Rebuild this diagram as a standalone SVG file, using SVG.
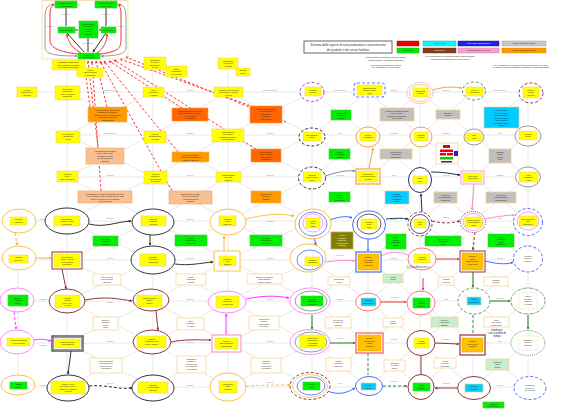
<svg xmlns="http://www.w3.org/2000/svg" width="575" height="417" viewBox="0 0 575 417">
<defs>
<style>
.t{font-family:"Liberation Sans",Arial,sans-serif;font-size:2.1px;fill:#222;text-anchor:middle}
.tw{font-family:"Liberation Sans",Arial,sans-serif;font-size:2.1px;fill:#fff;text-anchor:middle}
.lb{font-family:"Liberation Sans",Arial,sans-serif;font-size:1.9px;fill:#8a8a8a;text-anchor:middle}
.tt{font-family:"Liberation Sans",Arial,sans-serif;font-size:3px;fill:#333;text-anchor:middle}
.y{fill:#ffff00;stroke:#f3d36b;stroke-width:.6}
.g{fill:#00ee00;stroke:#3ccf3c;stroke-width:.6}
.o{fill:#ff9900;stroke:#f7b55a;stroke-width:.6}
.do{fill:#ff6600;stroke:#ff9a3c;stroke-width:.6}
.pe{fill:#fac08f;stroke:#f4a460;stroke-width:.6}
.wb{fill:#fff;stroke:#fbd69a;stroke-width:.8}
.gr{fill:#c0c0c0;stroke:#efcf8e;stroke-width:.8}
.cy{fill:#00ccff;stroke:#e8d08a;stroke-width:.6}
.gd{fill:#ffc000;stroke:#e6a400;stroke-width:.5}
.lg{fill:#c6efce;stroke:#f3d08a;stroke-width:.7}
.ol{fill:#7f7f00;stroke:#c8a850;stroke-width:.8}
.e{fill:#fff;stroke-width:1}
.en{fill:none;stroke-width:.8}
.k{stroke:#333}
.or{stroke:#f9c04e}
.pk{stroke:#ff88ff}
.br{stroke:#8b3a3a}
.bl{stroke:#4a6cf7}
.nv{stroke:#22305a}
.rd{stroke:#f77}
.gn{stroke:#5a9a6a}
.gy{stroke:#999}
.pu{stroke:#9b4fb0}
.dsh{stroke-dasharray:3 2}
.dot{stroke-dasharray:1 1}
.grid{fill:none;stroke:#c6c6c6;stroke-width:.4}
.c{fill:none;stroke-width:1}
.rdl{fill:none;stroke:#f33;stroke-width:1;stroke-dasharray:2.5 2}
</style>
<marker id="ak" viewBox="0 0 6 6" refX="5" refY="3" markerWidth="3" markerHeight="3" orient="auto"><path d="M0 0L6 3L0 6z" fill="#333"/></marker>
<marker id="abr" viewBox="0 0 6 6" refX="5" refY="3" markerWidth="3" markerHeight="3" orient="auto"><path d="M0 0L6 3L0 6z" fill="#8b3a3a"/></marker>
<marker id="aor" viewBox="0 0 6 6" refX="5" refY="3" markerWidth="3" markerHeight="3" orient="auto"><path d="M0 0L6 3L0 6z" fill="#f5a623"/></marker>
<marker id="amg" viewBox="0 0 6 6" refX="5" refY="3" markerWidth="3" markerHeight="3" orient="auto"><path d="M0 0L6 3L0 6z" fill="#f3f"/></marker>
<marker id="apk" viewBox="0 0 6 6" refX="5" refY="3" markerWidth="3" markerHeight="3" orient="auto"><path d="M0 0L6 3L0 6z" fill="#f8c"/></marker>
<marker id="abl" viewBox="0 0 6 6" refX="5" refY="3" markerWidth="3" markerHeight="3" orient="auto"><path d="M0 0L6 3L0 6z" fill="#4a6cf7"/></marker>
<marker id="anv" viewBox="0 0 6 6" refX="5" refY="3" markerWidth="3" markerHeight="3" orient="auto"><path d="M0 0L6 3L0 6z" fill="#22305a"/></marker>
<marker id="ard" viewBox="0 0 6 6" refX="5" refY="3" markerWidth="3" markerHeight="3" orient="auto"><path d="M0 0L6 3L0 6z" fill="#e33"/></marker>
<marker id="agn" viewBox="0 0 6 6" refX="5" refY="3" markerWidth="3" markerHeight="3" orient="auto"><path d="M0 0L6 3L0 6z" fill="#2a7a2a"/></marker>
<marker id="agy" viewBox="0 0 6 6" refX="5" refY="3" markerWidth="3" markerHeight="3" orient="auto"><path d="M0 0L6 3L0 6z" fill="#888"/></marker>
</defs>
<rect width="575" height="417" fill="#fff"/>

<g id="connectors">
<path class="grid" d="M18 221H528M18 260H528M18 301H528M18 343H528M18 387H528M27 92H528M67 135H528M67 177H528M67 70V387M153 70V387M228 69V387M312 92V387M368 92V387M420 92V387M473 92V387M528 92V387M18 221V387"/>
<path class="grid" d="M67 92L153 135L67 177L153 221L67 260L153 301L67 343L153 387M153 92L67 135L153 177L67 221L153 260L67 301L153 343L67 387M153 92L228 135L153 177L228 221L153 260L228 301L153 343L228 387M228 92L153 135L228 177L153 221L228 260L153 301L228 343L153 387M228 92L312 135L228 177L312 221L228 260L312 301L228 343L312 387M312 92L228 135L312 177L228 221L312 260L228 301L312 343L228 387M312 92L368 135L312 177L368 221L312 260L368 301L312 343L368 387M368 92L312 135L368 177L312 221L368 260L312 301L368 343L312 387M368 92L420 135L368 177L420 221L368 260L420 301L368 343L420 387M420 92L368 135L420 177L368 221L420 260L368 301L420 343L368 387M420 92L473 135L420 177L473 221L420 260L473 301L420 343L473 387M473 92L420 135L473 177L420 221L473 260L420 301L473 343L420 387M473 92L528 135L473 177L528 221L473 260L528 301L473 343L528 387M528 92L473 135L528 177L473 221L528 260L473 301L528 343L473 387"/>
<g>
<text class="lb" x="110" y="91.4">scambio servizi</text><text class="lb" x="190" y="91.4">fornitura</text><text class="lb" x="270" y="91.4">acquisto prodotti</text><text class="lb" x="340" y="91.4">autoconsumo</text><text class="lb" x="394" y="91.4">scambio</text><text class="lb" x="446" y="91.4">fornitura</text><text class="lb" x="500" y="91.4">manutenzione</text>
<text class="lb" x="110" y="134.4">autoproduzione</text><text class="lb" x="190" y="134.4">scambio</text><text class="lb" x="270" y="134.4">fornitura</text><text class="lb" x="340" y="134.4">riuso</text><text class="lb" x="394" y="134.4">consumo</text><text class="lb" x="446" y="134.4">scambio</text><text class="lb" x="500" y="134.4">riuso</text>
<text class="lb" x="110" y="176.4">scambio</text><text class="lb" x="190" y="176.4">servizio</text><text class="lb" x="270" y="176.4">consumo</text><text class="lb" x="340" y="176.4">fornitura</text><text class="lb" x="394" y="176.4">riuso</text><text class="lb" x="446" y="176.4">servizio</text><text class="lb" x="500" y="176.4">scambio</text>
<text class="lb" x="43" y="220.4">fornitura</text><text class="lb" x="110" y="219.4">scambio</text><text class="lb" x="190" y="220.4">consumo</text><text class="lb" x="270" y="222.4">fornitura</text><text class="lb" x="394" y="220.4">servizio</text><text class="lb" x="446" y="218.4">scambio</text><text class="lb" x="500" y="219.4">riuso</text>
<text class="lb" x="43" y="259.4">acquisto</text><text class="lb" x="110" y="259.4">servizio</text><text class="lb" x="190" y="259.4">consumo</text><text class="lb" x="270" y="259.4">scambio</text><text class="lb" x="340" y="256.4">fornitura</text><text class="lb" x="394" y="259.4">scambio</text><text class="lb" x="500" y="259.4">servizio</text>
<text class="lb" x="43" y="300.4">consumo</text><text class="lb" x="110" y="303.4">scambio</text><text class="lb" x="190" y="300.4">fornitura</text><text class="lb" x="270" y="300.4">servizio</text><text class="lb" x="340" y="300.4">scambio</text><text class="lb" x="394" y="298.4">consumo</text><text class="lb" x="446" y="300.4">riuso</text><text class="lb" x="500" y="299.4">fornitura</text>
<text class="lb" x="43" y="346.4">scambio</text><text class="lb" x="110" y="342.4">consumo</text><text class="lb" x="190" y="343.4">servizio</text><text class="lb" x="270" y="342.4">fornitura</text><text class="lb" x="340" y="339.4">servizio</text><text class="lb" x="394" y="340.4">scambio</text><text class="lb" x="446" y="340.4">consumo</text><text class="lb" x="500" y="342.4">riuso</text>
<text class="lb" x="43" y="386.4">fornitura</text><text class="lb" x="110" y="384.4">servizio</text><text class="lb" x="190" y="386.4">scambio</text><text class="lb" x="270" y="383.4">consumo</text><text class="lb" x="340" y="384.4">riuso</text><text class="lb" x="394" y="382.4">fornitura</text><text class="lb" x="446" y="384.4">scambio</text><text class="lb" x="500" y="386.4">servizio</text>
</g>
<path class="rdl" d="M98 148L88 61" marker-end="url(#ard)"/>
<path class="rdl" d="M101 191L92 61" marker-end="url(#ard)"/>
<path class="rdl" d="M107 107L96 61" marker-end="url(#ard)"/>
<path class="rdl" d="M172 191L100 61" marker-end="url(#ard)"/>
<path class="rdl" d="M178 152L104 61" marker-end="url(#ard)"/>
<path class="rdl" d="M182 108L109 61" marker-end="url(#ard)"/>
<path class="rdl" d="M256 149L114 60" marker-end="url(#ard)"/>
<path class="rdl" d="M254 107L120 59" marker-end="url(#ard)"/>
<path class="rdl" d="M286 122L126 57" marker-end="url(#ard)"/>
<path class="rdl" d="M90 107L84 61" marker-end="url(#ard)"/>
<path class="c k" d="M89 224C105 228 115 222 131 221" marker-end="url(#ak)"/>
<path class="c k" d="M150 235V245" marker-end="url(#ak)"/>
<path class="c k" d="M175 264C190 266 200 263 213 262" marker-end="url(#ak)"/>
<path class="c k" stroke-width="1.3" d="M71 351L68 374" marker-end="url(#ak)"/>
<path class="c k dsh" d="M89 386C105 384 118 390 132 388" marker-end="url(#ak)"/>
<path class="c or" d="M246 219C260 216 275 212 294 216" marker-end="url(#aor)"/>
<path class="c or" d="M224 251L224 236" marker-end="url(#aor)"/>
<path class="c or dsh" d="M15 233L17 245" marker-end="url(#aor)"/>
<path class="c or" d="M36 258L51 258" marker-end="url(#aor)"/>
<path class="c or dsh" d="M246 386C262 385 278 385 290 385" marker-end="url(#aor)"/>
<path class="c" stroke="#f5a040" d="M433 90C445 86 455 87 462 88" marker-end="url(#aor)"/>
<path class="c" stroke="#f5a040" d="M369 168L373 148" marker-end="url(#aor)"/>
<path class="c br" d="M62 269L66 289" marker-end="url(#abr)"/>
<path class="c br" d="M85 300C105 296 120 299 132 301" marker-end="url(#abr)"/>
<path class="c br" d="M156 311L158 330" marker-end="url(#abr)"/>
<path class="c br" d="M171 342C185 339 200 340 211 340" marker-end="url(#abr)"/>
<path class="c br dsh" d="M432 221C445 224 452 223 460 221" marker-end="url(#abr)"/>
<path class="c br dsh" d="M475 232L473 250" marker-end="url(#abr)"/>
<path class="c br" d="M421 356V375"/>
<path class="c br" d="M435 343L459 344" marker-end="url(#abr)"/>
<path class="c br" d="M457 388L435 388" marker-end="url(#abr)"/>
<path class="c dsh" stroke="#f3f" d="M14 312L16 329" marker-end="url(#amg)"/>
<path class="c" stroke="#f3f" d="M34 340C42 338 46 340 51 341" marker-end="url(#amg)"/>
<path class="c" stroke="#f3f" d="M226 335L226 314" marker-end="url(#amg)"/>
<path class="c" stroke="#f3f" d="M246 299C260 296 275 295 289 298" marker-end="url(#amg)"/>
<path class="c" stroke="#f8c" d="M474 184L472 210" marker-end="url(#apk)"/>
<path class="c" stroke="#f8c" d="M485 219C500 216 510 215 514 215" marker-end="url(#apk)"/>
<path class="c" stroke="#f8c" d="M326 262C340 260 348 260 355 261" marker-end="url(#apk)"/>
<path class="c" stroke="#f8c" d="M381 256C392 250 402 252 410 256"/>
<path class="c bl" d="M330 220C340 216 348 216 352 218" marker-end="url(#abl)"/>
<path class="c bl" d="M368 238L368 251" marker-end="url(#abl)"/>
<path class="c bl" d="M314 238L316 245" marker-end="url(#abl)"/>
<path class="c bl" d="M485 261C500 265 510 264 513 262" marker-end="url(#abl)"/>
<path class="c bl" d="M327 391C340 396 348 392 355 388" marker-end="url(#abl)"/>
<path class="c nv" d="M386 219C396 218 402 218 408 219" marker-end="url(#anv)"/>
<path class="c nv" d="M422 212L421 194" marker-end="url(#anv)"/>
<path class="c nv" d="M431 172C445 172 452 174 460 175" marker-end="url(#anv)"/>
<path class="c" stroke="#888" d="M325 176C338 172 346 170 355 171" marker-end="url(#agy)"/>
<path class="c" stroke="#e33" d="M431 259L459 259" marker-end="url(#ard)"/>
<path class="c" stroke="#e33" d="M381 302L406 302" marker-end="url(#ard)"/>
<path class="c" stroke="#e33" d="M423 278L423 290" marker-end="url(#ard)"/>
<path class="c" stroke="#2a7a2a" d="M330 343L355 343" marker-end="url(#agn)"/>
<path class="c" stroke="#2a7a2a" d="M312 315V329" marker-end="url(#agn)"/>
<path class="c dsh" stroke="#3a9a3a" d="M368 353V375"/>
<path class="c dsh" stroke="#2a7a2a" d="M383 386L407 386" marker-end="url(#agn)"/>
<path class="c" stroke="#2a7a2a" d="M490 301L510 301" marker-end="url(#agn)"/>
<path class="c" stroke="#2a7a2a" d="M473 272V287" marker-end="url(#agn)"/>
<path class="c" stroke="#2a7a2a" d="M528 315V329" marker-end="url(#agn)"/>
<path class="c dsh" stroke="#3a9a3a" d="M473 315V334"/>
</g>

<g id="cluster">
<rect x="42" y="0.5" width="86" height="58.5" fill="none" stroke="#f8d8a8" stroke-width=".8"/>
<path class="c gy" d="M55 4C46 4 45 10 45 20V48C45 55 60 56 77 56" marker-end="url(#agy)"/>
<path class="c gy" d="M117 4C125 4 126 10 126 20V48C126 55 112 56 101 56" marker-end="url(#agy)"/>
<path class="c" stroke="#e33" d="M78 54C60 52 50 48 50 40V14C50 8 52 5 54 5" marker-end="url(#ard)"/>
<path class="c" stroke="#e33" d="M100 54C118 52 121 48 121 40V14C121 8 119 5 118 5" marker-end="url(#ard)"/>
<path class="c" stroke="#e33" d="M81 53C72 48 68 42 67 34" marker-end="url(#ard)"/>
<path class="c" stroke="#e33" d="M97 53C104 48 107 42 107 34" marker-end="url(#ard)"/>
<path class="c k" stroke-width=".7" d="M66 8V26M106 8V26M75 30H78M101 30H99M88 38V52M67 33L84 52M106 33L93 52" marker-end="url(#ak)"/>
<text class="lb" x="66" y="15">produzione</text><text class="lb" x="106" y="15">produzione</text>
<text class="lb" x="88" y="44">autoconsumo</text><text class="lb" x="50" y="27">scambio</text><text class="lb" x="121" y="27">scambio</text>
<rect class="g" x="55" y="1" width="22" height="7"/><text class="t" x="66" y="4">autoproduzione</text><text class="t" x="66" y="6.5">prodotti (PB)</text>
<rect class="g" x="95" y="1" width="22" height="7"/><text class="t" x="106" y="4">autoproduzione</text><text class="t" x="106" y="6.5">servizi (PB)</text>
<rect class="g" x="79" y="21" width="19" height="17"/><text class="t" x="88.5" y="24.5">autoconsumo</text><text class="t" x="88.5" y="27">di prodotti</text><text class="t" x="88.5" y="29.5">e servizi</text><text class="t" x="88.5" y="32">della</text><text class="t" x="88.5" y="34.5">famiglia</text>
<rect class="g" x="58" y="27" width="17" height="6"/><text class="t" x="66.5" y="30.7">beni prodotti</text>
<rect class="g" x="101" y="27" width="15" height="6"/><text class="t" x="108.5" y="30.7">servizi resi</text>
<rect class="g" x="78" y="53" width="22" height="6"/><text class="t" x="89" y="55.6">bilancio di</text><text class="t" x="89" y="58">autoconsumo</text>
</g>

<g id="inputs">
<g id="nA1"><rect class="y" x="52" y="60" width="33" height="10"/><text class="t" x="68.5" y="63">fabbisogno alimentare</text><text class="t" x="68.5" y="65.5">della famiglia e prodotti</text><text class="t" x="68.5" y="68">di consumo quotidiano</text></g>
<g id="nA2"><rect class="y" x="77" y="68" width="26" height="9"/><text class="t" x="90" y="71">risorse</text><text class="t" x="90" y="73.3">materie prime</text><text class="t" x="90" y="75.6">e strumenti</text></g>
<g id="nC0a"><rect class="y" x="144" y="57" width="22" height="13"/><text class="t" x="155" y="60.5">fabbisogno</text><text class="t" x="155" y="63">di servizi</text><text class="t" x="155" y="65.5">domestici e</text><text class="t" x="155" y="68">di cura</text></g>
<g id="nC0b"><rect class="y" x="166" y="66" width="21" height="11"/><text class="t" x="176.5" y="69.5">tempo</text><text class="t" x="176.5" y="72">disponibile</text><text class="t" x="176.5" y="74.5">dei membri</text></g>
<g id="nD0a"><rect class="y" x="218" y="58" width="20" height="11"/><text class="t" x="228" y="61.5">fabbisogno</text><text class="t" x="228" y="64">di energia</text><text class="t" x="228" y="66.5">e acqua</text></g>
<g id="nD0b"><rect class="y" x="236" y="68" width="14" height="8"/><text class="t" x="243" y="71.3">impianti</text><text class="t" x="243" y="73.8">propri</text></g>
</g>

<g id="row1">
<g id="r1A"><rect class="y" x="17" y="87" width="20" height="10"/><text class="t" x="27" y="90.5">prodotti</text><text class="t" x="27" y="93">acquistati sul</text><text class="t" x="27" y="95.5">mercato</text></g>
<g id="r1B"><rect class="y" x="55" y="86" width="25" height="14"/><text class="t" x="67.5" y="89.5">produzione</text><text class="t" x="67.5" y="92">alimentare</text><text class="t" x="67.5" y="94.5">orto e giardino</text><text class="t" x="67.5" y="97">domestico</text></g>
<g id="r1C"><rect class="y" x="143" y="87" width="21" height="10"/><text class="t" x="153.5" y="90.5">lavori</text><text class="t" x="153.5" y="93">domestici</text><text class="t" x="153.5" y="95.5">e pulizie</text></g>
<g id="r1D"><rect class="y" x="214" y="87" width="29" height="10"/><text class="t" x="228.5" y="90.5">produzione di energia</text><text class="t" x="228.5" y="93">fotovoltaico e solare</text><text class="t" x="228.5" y="95.5">termico</text></g>
<g id="r1E"><ellipse class="e pu dsh" cx="312" cy="92" rx="12" ry="9.5"/><rect class="y" x="305" y="87" width="16" height="9"/><text class="t" x="313" y="90.5">raccolta</text><text class="t" x="313" y="93">acqua</text></g>
<g id="r1F"><rect x="354" y="83" width="31" height="14" rx="3" fill="#fff" stroke="#5b8def" stroke-width="1.2" stroke-dasharray="3 2"/><rect class="y" x="357" y="85" width="25" height="10"/><text class="t" x="369.5" y="88.5">manutenzione</text><text class="t" x="369.5" y="91">ordinaria della</text><text class="t" x="369.5" y="93.5">casa</text></g>
<g id="r1G"><ellipse class="e rd dot" cx="420" cy="93" rx="13" ry="10.5"/><ellipse class="en or" cx="420" cy="93" rx="10.5" ry="8.5"/><rect class="y" x="413" y="88" width="15" height="9"/><text class="t" x="420.5" y="91.5">riparazioni</text><text class="t" x="420.5" y="94">utensili</text></g>
<g id="r1H"><ellipse class="e gn dsh" cx="474" cy="91" rx="11.5" ry="9"/><rect class="y" x="466" y="87" width="17" height="9"/><text class="t" x="474.5" y="90.5">cucito e</text><text class="t" x="474.5" y="93">riparazioni</text></g>
<g id="r1I"><ellipse class="e br dsh" stroke-width="1.2" cx="531" cy="93" rx="12" ry="10"/><rect class="y" x="523" y="87" width="16" height="11"/><text class="t" x="531" y="90.5">mobili e</text><text class="t" x="531" y="93">arredi</text><text class="t" x="531" y="95.5">fai da te</text></g>
</g>

<g id="between1">
<g id="b1B"><rect class="o" x="88" y="107" width="39" height="15"/><text class="t" x="107.5" y="110.5">conservazione alimentare</text><text class="t" x="107.5" y="113">marmellate, conserve</text><text class="t" x="107.5" y="115.5">essiccazione e congelamento</text><text class="t" x="107.5" y="118">dei prodotti dell'orto</text><text class="t" x="107.5" y="120.5">e del giardino</text></g>
<g id="b1C"><rect class="do" x="172" y="108" width="36" height="13"/><text class="t" x="190" y="111.5">organizzazione del tempo</text><text class="t" x="190" y="114">delle attivita domestiche</text><text class="t" x="190" y="116.5">e della cura</text><text class="t" x="190" y="119">dei familiari</text></g>
<g id="b1D"><rect class="do" x="250" y="106" width="32" height="17"/><text class="t" x="266" y="109.5">gestione dei consumi</text><text class="t" x="266" y="112">energetici della</text><text class="t" x="266" y="114.5">abitazione e</text><text class="t" x="266" y="117">accumulo</text><text class="t" x="266" y="119.5">dell'energia</text></g>
<g id="b1E"><rect class="g" x="331" y="110" width="20" height="10"/><text class="t" x="341" y="113.5">acqua per</text><text class="t" x="341" y="116">irrigazione</text><text class="t" x="341" y="118.5">dell'orto</text></g>
<g id="b1F"><rect class="gr" x="380" y="108" width="34" height="13"/><text class="t" x="397" y="111.5">prodotti di manutenzione</text><text class="t" x="397" y="114">vernici, colle e</text><text class="t" x="397" y="116.5">materiali di consumo</text><text class="t" x="397" y="119">per la casa</text></g>
<g id="b1G"><rect class="gr" x="436" y="110" width="24" height="9"/><text class="t" x="448" y="113.5">attrezzi e</text><text class="t" x="448" y="116">ricambi</text></g>
<g id="b1H"><rect class="cy" x="484" y="107" width="35" height="21"/><text class="t" x="501.5" y="111">bilancio lordo</text><text class="t" x="501.5" y="113.5">delle attivita di</text><text class="t" x="501.5" y="116">manutenzione e</text><text class="t" x="501.5" y="118.5">autoproduzione</text><text class="t" x="501.5" y="121">della famiglia</text><text class="t" x="501.5" y="123.5">risparmio annuo</text><text class="t" x="501.5" y="126">stimato</text></g>
</g>

<g id="row2">
<g id="r2B"><rect class="y" x="56" y="131" width="24" height="12"/><text class="t" x="68" y="134.5">allevamento</text><text class="t" x="68" y="137">animali da</text><text class="t" x="68" y="139.5">cortile</text></g>
<g id="r2C"><rect class="y" x="144" y="131" width="22" height="12"/><text class="t" x="155" y="134.5">cucina e</text><text class="t" x="155" y="137">preparazione</text><text class="t" x="155" y="139.5">dei pasti</text></g>
<g id="r2D"><rect class="y" x="212" y="129" width="32" height="13"/><text class="t" x="228" y="132.5">riscaldamento</text><text class="t" x="228" y="135">con legna e</text><text class="t" x="228" y="137.5">biomasse proprie</text><text class="t" x="228" y="140">della famiglia</text></g>
<g id="r2E"><ellipse class="e k dsh" cx="312" cy="137" rx="13" ry="9"/><rect class="y" x="303" y="132" width="18" height="9"/><text class="t" x="312" y="135.5">depurazione</text><text class="t" x="312" y="138">acque</text></g>
<g id="r2F"><ellipse class="e" stroke="#f8a040" stroke-width="1.2" cx="368" cy="137" rx="12" ry="10"/><rect class="y" x="360" y="132" width="16" height="9"/><text class="t" x="368" y="135.5">piccole</text><text class="t" x="368" y="138">riparazioni</text></g>
<g id="r2G"><ellipse class="e" stroke="#f8a040" stroke-width="1.2" cx="421" cy="137" rx="11" ry="10"/><rect class="y" x="414" y="132" width="14" height="9"/><text class="t" x="421" y="135.5">impianti</text><text class="t" x="421" y="138">elettrici</text></g>
<g id="r2H"><ellipse class="e gy" cx="474" cy="137" rx="10" ry="8"/><rect class="y" x="466" y="133" width="16" height="8"/><text class="t" x="474" y="136.3">abiti</text><text class="t" x="474" y="138.8">usati</text></g>
<g id="r2I"><ellipse class="e gy" cx="528" cy="136" rx="13" ry="10"/><rect class="y" x="519" y="131" width="18" height="9"/><text class="t" x="528" y="134.5">restauro</text><text class="t" x="528" y="137">mobili</text></g>
</g>

<g id="between2">
<g id="b2B"><rect class="pe" x="86" y="148" width="38" height="16"/><text class="t" x="105" y="151.5">trasformazione prodotti</text><text class="t" x="105" y="154">uova, carne, latte</text><text class="t" x="105" y="156.5">formaggi e salumi</text><text class="t" x="105" y="159">per autoconsumo</text><text class="t" x="105" y="161.5">familiare</text></g>
<g id="b2C"><rect class="o" x="172" y="152" width="37" height="10"/><text class="t" x="190.5" y="155.5">menu settimanale</text><text class="t" x="190.5" y="158">e spesa programmata</text><text class="t" x="190.5" y="160.5">riduzione sprechi</text></g>
<g id="b2D"><rect class="do" x="251" y="149" width="30" height="13"/><text class="t" x="266" y="152.5">manutenzione</text><text class="t" x="266" y="155">stufe e camini</text><text class="t" x="266" y="157.5">taglio legna</text><text class="t" x="266" y="160">stagionale</text></g>
<g id="b2E"><rect class="g" x="329" y="149" width="21" height="10"/><text class="t" x="339.5" y="152.5">acqua</text><text class="t" x="339.5" y="155">riutilizzata</text><text class="t" x="339.5" y="157.5">in casa</text></g>
<g id="b2F"><rect class="gr" x="380" y="149" width="32" height="10"/><text class="t" x="396" y="152.5">materiali per</text><text class="t" x="396" y="155">riparazioni</text><text class="t" x="396" y="157.5">domestiche</text></g>
<g id="b2G"><rect class="wb" x="436" y="143" width="22" height="21"/><rect x="443" y="145" width="7" height="3" fill="#e00"/><rect x="440" y="149.5" width="13" height="2.5" fill="#e00"/><rect x="440" y="153" width="6" height="2.5" fill="#e00"/><rect x="447" y="153" width="6" height="2.5" fill="#e00"/><rect x="440" y="157" width="13" height="2.5" fill="#0c0"/><rect x="441" y="161" width="11" height="1.5" fill="#333"/><rect x="454" y="151" width="4" height="5" fill="#22c"/></g>
<g id="b2H"><rect class="gr" x="489" y="149" width="22" height="14"/><text class="t" x="500" y="152.5">scambio</text><text class="t" x="500" y="155">abiti e</text><text class="t" x="500" y="157.5">oggetti</text><text class="t" x="500" y="160">usati</text></g>
</g>

<g id="row3">
<g id="r3B"><rect class="y" x="57" y="171" width="21" height="11"/><text class="t" x="67.5" y="174.5">raccolta</text><text class="t" x="67.5" y="177">frutti e</text><text class="t" x="67.5" y="179.5">erbe spontanee</text></g>
<g id="r3C"><rect class="y" x="144" y="171" width="23" height="13"/><text class="t" x="155.5" y="174.5">cura dei</text><text class="t" x="155.5" y="177">bambini e</text><text class="t" x="155.5" y="179.5">degli anziani</text><text class="t" x="155.5" y="182">in famiglia</text></g>
<g id="r3D"><rect class="y" x="216" y="172" width="25" height="10"/><text class="t" x="228.5" y="175.5">compostaggio</text><text class="t" x="228.5" y="178">dei rifiuti</text><text class="t" x="228.5" y="180.5">organici</text></g>
<g id="r3E"><ellipse class="e k dsh" cx="312" cy="178" rx="13.5" ry="11"/><rect class="y" x="303" y="172" width="18" height="10"/><text class="t" x="312" y="175.5">raccolta</text><text class="t" x="312" y="178">differenziata</text><text class="t" x="312" y="180.5">rifiuti</text></g>
<g id="r3F"><rect x="356" y="169" width="24" height="15" fill="#fff" stroke="#f8a040" stroke-width="1.2"/><rect class="y" x="358" y="171" width="20" height="11"/><text class="t" x="368" y="174.5">riparazione</text><text class="t" x="368" y="177">elettrodomestici</text><text class="t" x="368" y="179.5">in casa</text></g>
<g id="r3G"><ellipse class="e nv" stroke-width="1.2" cx="420" cy="180" rx="11.5" ry="12.5"/><rect class="y" x="413" y="176" width="14" height="8"/><text class="t" x="420" y="179.3">lavori</text><text class="t" x="420" y="181.8">edili</text></g>
<g id="r3H"><rect x="461" y="171" width="23" height="13" fill="#fff" stroke="#f9c" stroke-width="1"/><rect class="y" x="463" y="173" width="19" height="9"/><text class="t" x="472.5" y="176.5">ciclo vitale</text><text class="t" x="472.5" y="179">della casa</text></g>
<g id="r3I"><ellipse class="e gy" cx="528" cy="177" rx="12.5" ry="10"/><rect class="y" x="519" y="172" width="19" height="10"/><text class="t" x="528.5" y="175.5">riuso</text><text class="t" x="528.5" y="178">materiali</text><text class="t" x="528.5" y="180.5">edili</text></g>
</g>

<g id="between3">
<g id="b3B"><rect class="pe" x="78" y="191" width="54" height="12"/><text class="t" x="105" y="194.5">preparazione di pasti con prodotti dell'orto</text><text class="t" x="105" y="197">e del giardino, pane e pasta fatti in casa</text><text class="t" x="105" y="199.5">dolci e conserve per la famiglia</text><text class="t" x="105" y="202">e per gli ospiti</text></g>
<g id="b3C"><rect class="pe" x="169" y="191" width="43" height="13"/><text class="t" x="190.5" y="194.5">assistenza ai familiari</text><text class="t" x="190.5" y="197">non autosufficienti</text><text class="t" x="190.5" y="199.5">e doposcuola dei</text><text class="t" x="190.5" y="202">bambini</text></g>
<g id="b3D"><rect class="o" x="251" y="191" width="30" height="12"/><text class="t" x="266" y="194.5">concime per</text><text class="t" x="266" y="197">l'orto e il</text><text class="t" x="266" y="199.5">giardino</text></g>
<g id="b3E"><rect class="g" x="329" y="192" width="21" height="10"/><text class="t" x="339.5" y="195.5">materiali</text><text class="t" x="339.5" y="198">riciclati</text><text class="t" x="339.5" y="200.5">recuperati</text></g>
<g id="b3F"><rect class="cy" x="385" y="191" width="24" height="13"/><text class="t" x="397" y="194.5">bilancio</text><text class="t" x="397" y="197">lordo delle</text><text class="t" x="397" y="199.5">riparazioni</text><text class="t" x="397" y="202">annue</text></g>
<g id="b3G"><rect class="gr" x="434" y="192" width="23" height="11"/><text class="t" x="445.5" y="195.5">materiali</text><text class="t" x="445.5" y="198">da costruzione</text><text class="t" x="445.5" y="200.5">acquistati</text></g>
<g id="b3H"><rect class="gr" x="486" y="192" width="30" height="11"/><text class="t" x="501" y="195.5">prodotti di</text><text class="t" x="501" y="198">manutenzione</text><text class="t" x="501" y="200.5">straordinaria</text></g>
</g>

<g id="row4">
<g id="r4A"><ellipse class="e or" cx="19" cy="221" rx="17" ry="12"/><rect class="y" x="10" y="217" width="17" height="8"/><text class="t" x="18.5" y="220.3">sementi</text><text class="t" x="18.5" y="222.8">e piantine</text></g>
<g id="r4B"><ellipse class="e k" cx="67" cy="221" rx="22" ry="13"/><rect class="y" x="54" y="216" width="26" height="10"/><text class="t" x="67" y="219.5">coltivazione</text><text class="t" x="67" y="222">ortaggi e frutta</text><text class="t" x="67" y="224.5">di stagione</text></g>
<g id="r4C"><ellipse class="e k" cx="153" cy="222" rx="21" ry="13"/><rect class="y" x="141" y="216" width="25" height="10"/><text class="t" x="153.5" y="219.5">raccolto</text><text class="t" x="153.5" y="222">annuale</text><text class="t" x="153.5" y="224.5">dell'orto</text></g>
<g id="r4D"><ellipse class="e or" cx="228" cy="222" rx="18" ry="13"/><rect class="y" x="219" y="216" width="17" height="10"/><text class="t" x="227.5" y="219.5">consumo</text><text class="t" x="227.5" y="222">fresco</text><text class="t" x="227.5" y="224.5">familiare</text></g>
<g id="r4E"><ellipse class="e or" stroke-width="1.2" cx="313" cy="224" rx="18" ry="15"/><ellipse class="en bl" cx="313" cy="224" rx="14" ry="12"/><ellipse class="en pk" cx="313" cy="223" rx="10" ry="9"/><rect class="y" x="306" y="218" width="14" height="10"/><text class="t" x="313" y="221.5">pulizia</text><text class="t" x="313" y="224">della</text><text class="t" x="313" y="226.5">casa</text></g>
<g id="r4F"><ellipse class="e bl" stroke-width="1.2" cx="369" cy="225" rx="16.5" ry="14"/><ellipse class="en k" cx="369" cy="224" rx="12" ry="10"/><rect class="y" x="361" y="219" width="16" height="10"/><text class="t" x="369" y="222.5">gestione</text><text class="t" x="369" y="225">della</text><text class="t" x="369" y="227.5">casa</text></g>
<g id="r4G"><ellipse class="e br dsh" stroke-width="1.2" cx="420" cy="224" rx="12" ry="12"/><ellipse class="en nv" cx="420" cy="224" rx="9.5" ry="9.5"/><rect class="y" x="414" y="219" width="12" height="9"/><text class="t" x="420" y="222.5">lavori</text><text class="t" x="420" y="225">edili</text></g>
<g id="r4H"><ellipse class="e br dot" stroke-width="1.2" cx="473" cy="222" rx="12.5" ry="10.5"/><ellipse class="en pk" cx="473" cy="222" rx="10" ry="8.5"/><rect class="y" x="465" y="217" width="17" height="10"/><text class="t" x="473.5" y="220.5">manutenzione</text><text class="t" x="473.5" y="223">straordinaria</text><text class="t" x="473.5" y="225.5">casa</text></g>
<g id="r4I"><ellipse class="e bl dsh" stroke-width="1.2" cx="528" cy="222" rx="14.5" ry="13.5"/><ellipse class="en pk" cx="528" cy="221" rx="11" ry="9"/><rect class="y" x="519" y="216" width="18" height="10"/><text class="t" x="528" y="219.5">ristrutturazione</text><text class="t" x="528" y="222">della</text><text class="t" x="528" y="224.5">abitazione</text></g>
</g>

<g id="between4">
<g id="b4B"><rect class="g" x="93" y="236" width="25" height="10"/><text class="t" x="105.5" y="239.5">produzione</text><text class="t" x="105.5" y="242">orticola</text><text class="t" x="105.5" y="244.5">annuale</text></g>
<g id="b4C"><rect class="g" x="175" y="235" width="32" height="11"/><text class="t" x="191" y="238.5">prodotti</text><text class="t" x="191" y="241">conservati</text><text class="t" x="191" y="243.5">per l'inverno</text></g>
<g id="b4D"><rect class="g" x="250" y="235" width="32" height="11"/><text class="t" x="266" y="238.5">risparmio</text><text class="t" x="266" y="241">sulla spesa</text><text class="t" x="266" y="243.5">alimentare</text></g>
<g id="b4E"><rect class="ol" x="331" y="232" width="22" height="17"/><text class="tw" x="342" y="236">servizi</text><text class="tw" x="342" y="238.5">domestici</text><text class="tw" x="342" y="241">svolti dai</text><text class="tw" x="342" y="243.5">membri della</text><text class="tw" x="342" y="246">famiglia</text></g>
<g id="b4F"><rect class="g" x="386" y="234" width="20" height="15"/><text class="t" x="396" y="238">ore di</text><text class="t" x="396" y="240.5">lavoro</text><text class="t" x="396" y="243">domestico</text><text class="t" x="396" y="245.5">annue</text></g>
<g id="b4G"><rect class="g" x="425" y="236" width="36" height="10"/><text class="t" x="443" y="239.5">risparmio su</text><text class="t" x="443" y="242">interventi</text><text class="t" x="443" y="244.5">edili</text></g>
<g id="b4H"><rect class="g" x="488" y="234" width="26" height="13"/><text class="t" x="501" y="237.5">valore</text><text class="t" x="501" y="240">aggiunto</text><text class="t" x="501" y="242.5">della</text><text class="t" x="501" y="245">abitazione</text></g>
</g>

<g id="row5">
<g id="r5A"><ellipse class="e or" cx="19" cy="258" rx="17" ry="12"/><rect class="y" x="9" y="255" width="19" height="8"/><text class="t" x="18.5" y="258.3">animali</text><text class="t" x="18.5" y="260.8">da cortile</text></g>
<g id="r5B"><rect x="52" y="252" width="30" height="17" fill="#fff" stroke="#8b3a3a" stroke-width="1"/><rect class="y" x="54" y="254" width="26" height="13"/><text class="t" x="67" y="257.5">allevamento</text><text class="t" x="67" y="260">galline, conigli</text><text class="t" x="67" y="262.5">e altri animali</text><text class="t" x="67" y="265">domestici</text></g>
<g id="r5C"><ellipse class="e k" cx="153" cy="260" rx="22" ry="14"/><rect class="y" x="140" y="254" width="26" height="12"/><text class="t" x="153" y="257.5">conserve</text><text class="t" x="153" y="260">e prodotti</text><text class="t" x="153" y="262.5">trasformati</text></g>
<g id="r5D"><rect x="214" y="251" width="26" height="20" fill="#fff" stroke="#f9c04e" stroke-width="1"/><rect class="y" x="219" y="256" width="17" height="10"/><text class="t" x="227.5" y="259.5">dispensa</text><text class="t" x="227.5" y="262">della</text><text class="t" x="227.5" y="264.5">famiglia</text></g>
<g id="r5E"><ellipse class="e or" stroke-width="1.2" cx="308" cy="258" rx="18" ry="14"/><ellipse class="en bl" cx="310" cy="260" rx="13" ry="10"/><rect class="y" x="305" y="257" width="15" height="9"/><text class="t" x="312.5" y="260.5">lavaggio</text><text class="t" x="312.5" y="263">biancheria</text></g>
<g id="r5F"><rect x="356" y="252" width="25" height="20" fill="#fff" stroke="#4a6cf7" stroke-width="1.2"/><rect class="gd" x="358" y="254" width="21" height="16"/><text class="t" x="368.5" y="258">bilancio</text><text class="t" x="368.5" y="260.5">del tempo</text><text class="t" x="368.5" y="263">dedicato</text><text class="t" x="368.5" y="265.5">alla casa</text></g>
<g id="r5G"><ellipse class="e rd" cx="422" cy="259" rx="14" ry="11"/><rect class="y" x="414" y="254" width="16" height="9"/><text class="t" x="422" y="257.5">energia</text><text class="t" x="422" y="260">prodotta</text><text class="lb" x="418" y="268" style="font-size:2.6px;fill:#555">(C)(Sandbox(ene)+)</text></g>
<g id="r5H"><rect x="460" y="251" width="25" height="21" fill="#fff" stroke="#8b3a3a" stroke-width="1"/><rect class="gd" x="462" y="253" width="21" height="17"/><text class="t" x="472.5" y="257">bilancio</text><text class="t" x="472.5" y="259.5">della</text><text class="t" x="472.5" y="262">manutenzione</text><text class="t" x="472.5" y="264.5">della casa</text></g>
<g id="r5I"><ellipse class="e bl dsh" stroke-width="1.2" cx="528" cy="259" rx="14.5" ry="13"/><text class="t" x="528" y="256.5">impianti</text><text class="t" x="528" y="259">termici e</text><text class="t" x="528" y="261.5">idraulici</text></g>
</g>

<g id="between5">
<rect class="wb" x="93" y="274" width="28" height="11"/><text class="t" x="107" y="277.5">uova e carne</text><text class="t" x="107" y="280">per consumo</text><text class="t" x="107" y="282.5">familiare</text>
<rect class="wb" x="176" y="274" width="30" height="11"/><text class="t" x="191" y="277.5">scorte</text><text class="t" x="191" y="280">alimentari</text><text class="t" x="191" y="282.5">annuali</text>
<rect class="wb" x="247" y="274" width="35" height="10"/><text class="t" x="264.5" y="277.5">prodotti consumati</text><text class="t" x="264.5" y="280">dalla famiglia</text><text class="t" x="264.5" y="282.5">durante l'anno</text>
<rect class="wb" x="328" y="277" width="22" height="8"/><text class="t" x="339" y="280.3">biancheria</text><text class="t" x="339" y="282.8">pulita</text>
<rect class="lg" x="383" y="274" width="20" height="9"/><text class="t" x="393" y="277.5">tempo</text><text class="t" x="393" y="280">libero</text>
<rect class="wb" x="438" y="277" width="16" height="8"/><text class="t" x="446" y="280.3">energia</text><text class="t" x="446" y="282.8">elettrica</text>
<rect class="wb" x="484" y="277" width="24" height="9"/><text class="t" x="496" y="280.5">impianti</text><text class="t" x="496" y="283">efficienti</text>
</g>

<g id="row6">
<g id="r6A"><ellipse class="e pk" cx="17" cy="300" rx="17" ry="12"/><rect class="g" x="8" y="295" width="20" height="11"/><text class="t" x="18" y="298.5">mangimi</text><text class="t" x="18" y="301">e foraggi</text><text class="t" x="18" y="303.5">propri</text></g>
<g id="r6B"><ellipse class="e br" cx="67" cy="301" rx="18" ry="12"/><rect class="y" x="55" y="295" width="25" height="13"/><text class="t" x="67.5" y="298.5">prodotti</text><text class="t" x="67.5" y="301">animali</text><text class="t" x="67.5" y="303.5">uova, latte</text><text class="t" x="67.5" y="306">e carne</text></g>
<g id="r6C"><ellipse class="e br" cx="151" cy="300" rx="18" ry="11"/><rect class="y" x="137" y="295" width="25" height="12"/><text class="t" x="149.5" y="298.5">trasformazione</text><text class="t" x="149.5" y="301">carni e</text><text class="t" x="149.5" y="303.5">latticini</text></g>
<g id="r6D"><ellipse class="e pk" stroke-width="1.2" cx="227" cy="302" rx="19" ry="11"/><rect class="y" x="216" y="296" width="23" height="12"/><text class="t" x="227.5" y="299.5">prodotti</text><text class="t" x="227.5" y="302">conservati</text><text class="t" x="227.5" y="304.5">in dispensa</text></g>
<g id="r6E"><ellipse class="e pk" stroke-width="1.2" cx="310" cy="301" rx="20" ry="13"/><ellipse class="en gn" cx="311" cy="301" rx="16" ry="10"/><rect class="g" x="301" y="296" width="22" height="10"/><text class="t" x="312" y="299.5">servizi di</text><text class="t" x="312" y="302">cura alla</text><text class="t" x="312" y="304.5">persona</text></g>
<g id="r6F"><ellipse class="e rd" cx="368" cy="302" rx="12.5" ry="9"/><rect class="cy" x="361" y="298" width="15" height="8"/><text class="t" x="368.5" y="301.3">energia</text><text class="t" x="368.5" y="303.8">consumata</text></g>
<g id="r6G"><ellipse class="e rd" cx="421" cy="303" rx="14" ry="12"/><rect class="g" x="413" y="298" width="17" height="10"/><text class="t" x="421.5" y="301.5">energia</text><text class="t" x="421.5" y="304">ceduta</text><text class="t" x="421.5" y="306.5">alla rete</text></g>
<g id="r6H"><ellipse class="e gn dsh" cx="474" cy="301" rx="16" ry="13"/><rect class="cy" x="467" y="297" width="14" height="8"/><text class="t" x="474" y="300.3">acqua</text><text class="t" x="474" y="302.8">consumata</text></g>
<g id="r6I"><ellipse class="e gn" stroke-dasharray="3 1 1 1" cx="528" cy="301" rx="17" ry="13"/><rect x="519" y="293" width="18" height="16" fill="#fff" stroke="#f3d36b" stroke-width=".6" stroke-dasharray="1 1"/><text class="t" x="528" y="297">acqua</text><text class="t" x="528" y="299.5">piovana</text><text class="t" x="528" y="302">raccolta</text><text class="t" x="528" y="304.5">e riusata</text></g>
</g>

<g id="between6">
<rect class="wb" x="93" y="317" width="25" height="13"/><text class="t" x="105.5" y="320.5">salumi e</text><text class="t" x="105.5" y="323">formaggi</text><text class="t" x="105.5" y="325.5">fatti in</text><text class="t" x="105.5" y="328">casa</text>
<rect class="wb" x="177" y="318" width="27" height="12"/><text class="t" x="190.5" y="321.5">pasti</text><text class="t" x="190.5" y="324">preparati</text><text class="t" x="190.5" y="326.5">in casa</text>
<rect class="wb" x="249" y="316" width="30" height="14"/><text class="t" x="264" y="319.5">consumo di</text><text class="t" x="264" y="322">prodotti</text><text class="t" x="264" y="324.5">autoprodotti</text><text class="t" x="264" y="327">nell'anno</text>
<rect class="wb" x="325" y="317" width="26" height="11"/><text class="t" x="338" y="320.5">ore di cura</text><text class="t" x="338" y="323">prestate ai</text><text class="t" x="338" y="325.5">familiari</text>
<rect class="wb" x="383" y="318" width="20" height="9"/><text class="t" x="393" y="321.5">costo</text><text class="t" x="393" y="324">energia</text>
<rect class="lg" x="431" y="317" width="27" height="10"/><text class="t" x="444.5" y="320.5">incentivi</text><text class="t" x="444.5" y="323">e contributi</text><text class="t" x="444.5" y="325.5">pubblici</text>
<rect class="wb" x="484" y="317" width="25" height="10"/><text class="t" x="496.5" y="320.5">costo</text><text class="t" x="496.5" y="323">dell'acqua</text><text class="t" x="496.5" y="325.5">risparmiato</text>
<text class="t" x="497" y="331" style="font-size:2.6px">produttori</text><text class="t" x="497" y="334" style="font-size:2.6px">con scambio di</text><text class="t" x="497" y="337" style="font-size:2.6px">tempo</text>
</g>

<g id="row7">
<g id="r7A"><ellipse class="e pk" cx="17" cy="342" rx="17" ry="12"/><rect class="y" x="7" y="338" width="23" height="8"/><text class="t" x="18.5" y="341.3">prodotti acquistati</text><text class="t" x="18.5" y="343.8">per la cucina</text></g>
<g id="r7B"><rect x="52" y="336" width="31" height="15" fill="#fff" stroke="#333" stroke-width="1.2"/><rect x="53.5" y="337.5" width="28" height="12" fill="none" stroke="#333" stroke-width=".5"/><rect class="y" x="55" y="339" width="25" height="9"/><text class="t" x="67.5" y="342.5">pasti quotidiani</text><text class="t" x="67.5" y="345">della famiglia</text></g>
<g id="r7C"><ellipse class="e br" cx="152" cy="342" rx="19" ry="12"/><rect class="y" x="137" y="336" width="29" height="12"/><text class="t" x="151.5" y="339.5">prodotti</text><text class="t" x="151.5" y="342">scambiati con</text><text class="t" x="151.5" y="344.5">vicini e parenti</text></g>
<g id="r7D"><rect x="212" y="335" width="29" height="17" fill="#fff" stroke="#f9c" stroke-width="1.2"/><rect class="y" x="215" y="338" width="23" height="11"/><text class="t" x="226.5" y="341.5">regali e</text><text class="t" x="226.5" y="344">doni alimentari</text><text class="t" x="226.5" y="346.5">autoprodotti</text></g>
<g id="r7E"><ellipse class="e pk" stroke-width="1.2" cx="310" cy="342" rx="20" ry="12.5"/><ellipse class="en gn" cx="311" cy="342" rx="16" ry="10"/><rect class="y" x="300" y="335" width="25" height="13"/><text class="t" x="312.5" y="338.5">assistenza</text><text class="t" x="312.5" y="341">agli anziani</text><text class="t" x="312.5" y="343.5">e ai malati</text><text class="t" x="312.5" y="346">in famiglia</text></g>
<g id="r7F"><rect x="356" y="333" width="27" height="20" fill="#fff" stroke="#f55" stroke-width="1.2"/><rect class="gd" x="358" y="335" width="23" height="16"/><text class="t" x="369.5" y="339">bilancio</text><text class="t" x="369.5" y="341.5">energetico</text><text class="t" x="369.5" y="344">della</text><text class="t" x="369.5" y="346.5">famiglia</text></g>
<g id="r7G"><ellipse class="e br" cx="421" cy="343" rx="14" ry="12.5"/><rect class="y" x="414" y="338" width="15" height="10"/><text class="t" x="421.5" y="341.5">legna</text><text class="t" x="421.5" y="344">da ardere</text></g>
<g id="r7H"><rect x="460" y="335" width="25" height="20" fill="#fff" stroke="#8b3a3a" stroke-width="1.2"/><rect class="gd" x="462" y="338" width="21" height="14"/><text class="t" x="472.5" y="342">bilancio</text><text class="t" x="472.5" y="344.5">idrico della</text><text class="t" x="472.5" y="347">famiglia</text></g>
<g id="r7I"><ellipse class="e gn dot" cx="528" cy="343" rx="17" ry="12.5"/><rect x="518" y="336" width="20" height="14" fill="#fff" stroke="#f3d36b" stroke-width=".6" stroke-dasharray="1 1"/><text class="t" x="528" y="340.5">acqua per</text><text class="t" x="528" y="343">l'orto e il</text><text class="t" x="528" y="345.5">giardino</text></g>
</g>

<g id="between7">
<rect class="wb" x="90" y="358" width="32" height="15"/><text class="t" x="106" y="361.5">pasti consumati</text><text class="t" x="106" y="364">in famiglia con</text><text class="t" x="106" y="366.5">prodotti propri</text><text class="t" x="106" y="369">e acquistati</text>
<rect class="wb" x="177" y="356" width="29" height="17"/><text class="t" x="191.5" y="359.5">scambio di</text><text class="t" x="191.5" y="362">prodotti e</text><text class="t" x="191.5" y="364.5">servizi nella</text><text class="t" x="191.5" y="367">rete familiare</text><text class="t" x="191.5" y="369.5">e di vicinato</text>
<rect class="wb" x="251" y="358" width="30" height="15"/><text class="t" x="266" y="361.5">relazioni</text><text class="t" x="266" y="364">sociali e</text><text class="t" x="266" y="366.5">reciprocita</text><text class="t" x="266" y="369">tra famiglie</text>
<rect class="wb" x="326" y="358" width="25" height="13"/><text class="t" x="338.5" y="361.5">tempo</text><text class="t" x="338.5" y="364">dedicato</text><text class="t" x="338.5" y="366.5">alla cura</text>
<rect class="wb" x="384" y="360" width="21" height="11"/><text class="t" x="394.5" y="363.5">consumo</text><text class="t" x="394.5" y="366">di legna</text><text class="t" x="394.5" y="368.5">annuo</text>
<rect class="wb" x="434" y="358" width="22" height="10"/><text class="t" x="445" y="361.5">legna</text><text class="t" x="445" y="364">raccolta</text><text class="t" x="445" y="366.5">nel bosco</text>
<rect class="lg" x="486" y="359" width="23" height="11"/><text class="t" x="497.5" y="362.5">risparmio</text><text class="t" x="497.5" y="365">idrico</text><text class="t" x="497.5" y="367.5">annuo</text>
</g>

<g id="row8">
<g id="r8A"><ellipse class="e or" cx="18" cy="385" rx="17" ry="10"/><rect class="g" x="10" y="382" width="17" height="7"/><text class="t" x="18.5" y="385">ospiti</text><text class="t" x="18.5" y="387.5">e amici</text></g>
<g id="r8B"><ellipse class="e k" cx="68" cy="388" rx="21" ry="13"/><rect class="y" x="51" y="381" width="34" height="13"/><text class="t" x="68" y="384.5">pranzi e cene</text><text class="t" x="68" y="387">con ospiti, feste e</text><text class="t" x="68" y="389.5">ricorrenze familiari</text><text class="t" x="68" y="392">in casa</text></g>
<g id="r8C"><ellipse class="e k" cx="153" cy="388" rx="21" ry="13"/><rect class="y" x="138" y="382" width="30" height="11"/><text class="t" x="153" y="385.5">ospitalita</text><text class="t" x="153" y="388">e convivialita</text><text class="t" x="153" y="390.5">familiare</text></g>
<g id="r8D"><ellipse class="e or" cx="228" cy="387" rx="18" ry="14"/><rect class="y" x="219" y="381" width="18" height="12"/><text class="t" x="228" y="384.5">benessere</text><text class="t" x="228" y="387">della</text><text class="t" x="228" y="389.5">famiglia</text></g>
<g id="r8E"><ellipse class="e br dsh" stroke-width="1.2" cx="310" cy="386" rx="20" ry="13.5"/><ellipse class="en or" cx="310" cy="386" rx="17.5" ry="11.5"/><ellipse class="en bl" cx="311" cy="386" rx="14" ry="9"/><rect class="g" x="303" y="382" width="17" height="8"/><text class="t" x="311.5" y="385.3">servizi</text><text class="t" x="311.5" y="387.8">resi</text></g>
<g id="r8F"><ellipse class="e bl" stroke-width="1.2" cx="369" cy="386" rx="13.5" ry="9.5"/><rect class="cy" x="361" y="383" width="15" height="7"/><text class="t" x="368.5" y="386">servizi</text><text class="t" x="368.5" y="388.5">ricevuti</text></g>
<g id="r8G"><ellipse class="e br" stroke-width="1.2" cx="421" cy="387" rx="13" ry="12.5"/><rect class="g" x="413" y="383" width="17" height="8"/><text class="t" x="421.5" y="386.3">calore</text><text class="t" x="421.5" y="388.8">prodotto</text></g>
<g id="r8H"><ellipse class="e br" stroke-width="1.2" cx="474" cy="388" rx="16.5" ry="11.5"/><rect class="cy" x="465" y="384" width="18" height="8"/><text class="t" x="474" y="387.3">cenere</text><text class="t" x="474" y="389.8">per l'orto</text></g>
<g id="r8I"><ellipse class="e bl dsh" stroke-width="1.2" cx="530" cy="388" rx="16" ry="11.5"/><text class="t" x="530" y="386">irrigazione</text><text class="t" x="530" y="388.5">dell'orto e</text><text class="t" x="530" y="391">del giardino</text></g>
<g id="x1"><rect class="g" x="483" y="402" width="21" height="6"/><text class="t" x="493.5" y="404.6">bilancio</text><text class="t" x="493.5" y="407">complessivo</text></g>
</g>

<g id="legend">
<rect x="304" y="41" width="88" height="12" fill="#fff" stroke="#444" stroke-width=".8"/>
<text class="tt" x="348" y="46.2">Schema delle logiche di auto produzione e autoconsumo</text>
<text class="tt" x="348" y="50.5">dei prodotti e dei servizi familiari</text>
<rect x="397" y="41" width="22" height="5" fill="#e00" stroke="#900" stroke-width=".4"/><text class="t" x="408" y="44.3">autoproduzione</text>
<rect x="397" y="48" width="22" height="5" fill="#00ee00" stroke="#090" stroke-width=".4"/><text class="t" x="408" y="51.3">PB: bilancio</text>
<rect x="423" y="41" width="33" height="5" fill="#00ffff" stroke="#099" stroke-width=".4"/><text class="t" x="439.5" y="44.3">bilancio lordo</text>
<rect x="423" y="48" width="33" height="5" fill="#8b3a1a" stroke="#522" stroke-width=".4"/><text class="tw" x="439.5" y="51.3">ciclo di vita</text>
<rect x="458" y="41" width="41" height="5" fill="#2222ee" stroke="#113" stroke-width=".4"/><text class="tw" x="478.5" y="44.3">ciclo vitale manutenzione</text>
<rect x="458" y="48" width="41" height="5" fill="#f8a0d0" stroke="#c69" stroke-width=".4"/><text class="t" x="478.5" y="51.3">autoconsumo ciclo vitale</text>
<rect x="502" y="41" width="44" height="5" fill="#c8c8c8" stroke="#999" stroke-width=".4"/><text class="t" x="524" y="44.3">prodotti di manutenzione</text>
<rect x="502" y="48" width="44" height="5" fill="#ff9900" stroke="#c70" stroke-width=".4"/><text class="t" x="524" y="51.3">autoconsumo produttivo</text>
<text class="t" x="386" y="58" style="font-size:2.4px">osservazione produttiva interna (auto)</text>
<text class="t" x="386" y="60.8" style="font-size:2.4px">autoconsumo, consumo familiare</text>
<text class="t" x="450" y="57" style="font-size:2.4px">cic. produzione di manutenzione autoconsumo</text>
<text class="t" x="450" y="59.8" style="font-size:2.4px">riferimento produttivo del ciclo vitale</text>
<text class="t" x="386" y="65.5" style="font-size:2.4px">riferimento produttivo interno</text>
<text class="t" x="386" y="68.3" style="font-size:2.4px">cic. produttivo e ciclo vitale</text>
<text class="t" x="521" y="65.5" style="font-size:2.4px">cic. produttivo in funzione dell'innovazione del ciclo</text>
<text class="t" x="521" y="68.3" style="font-size:2.4px">di manutenzione prodotto e materiale autoconsumato</text>
</g>
</svg>
